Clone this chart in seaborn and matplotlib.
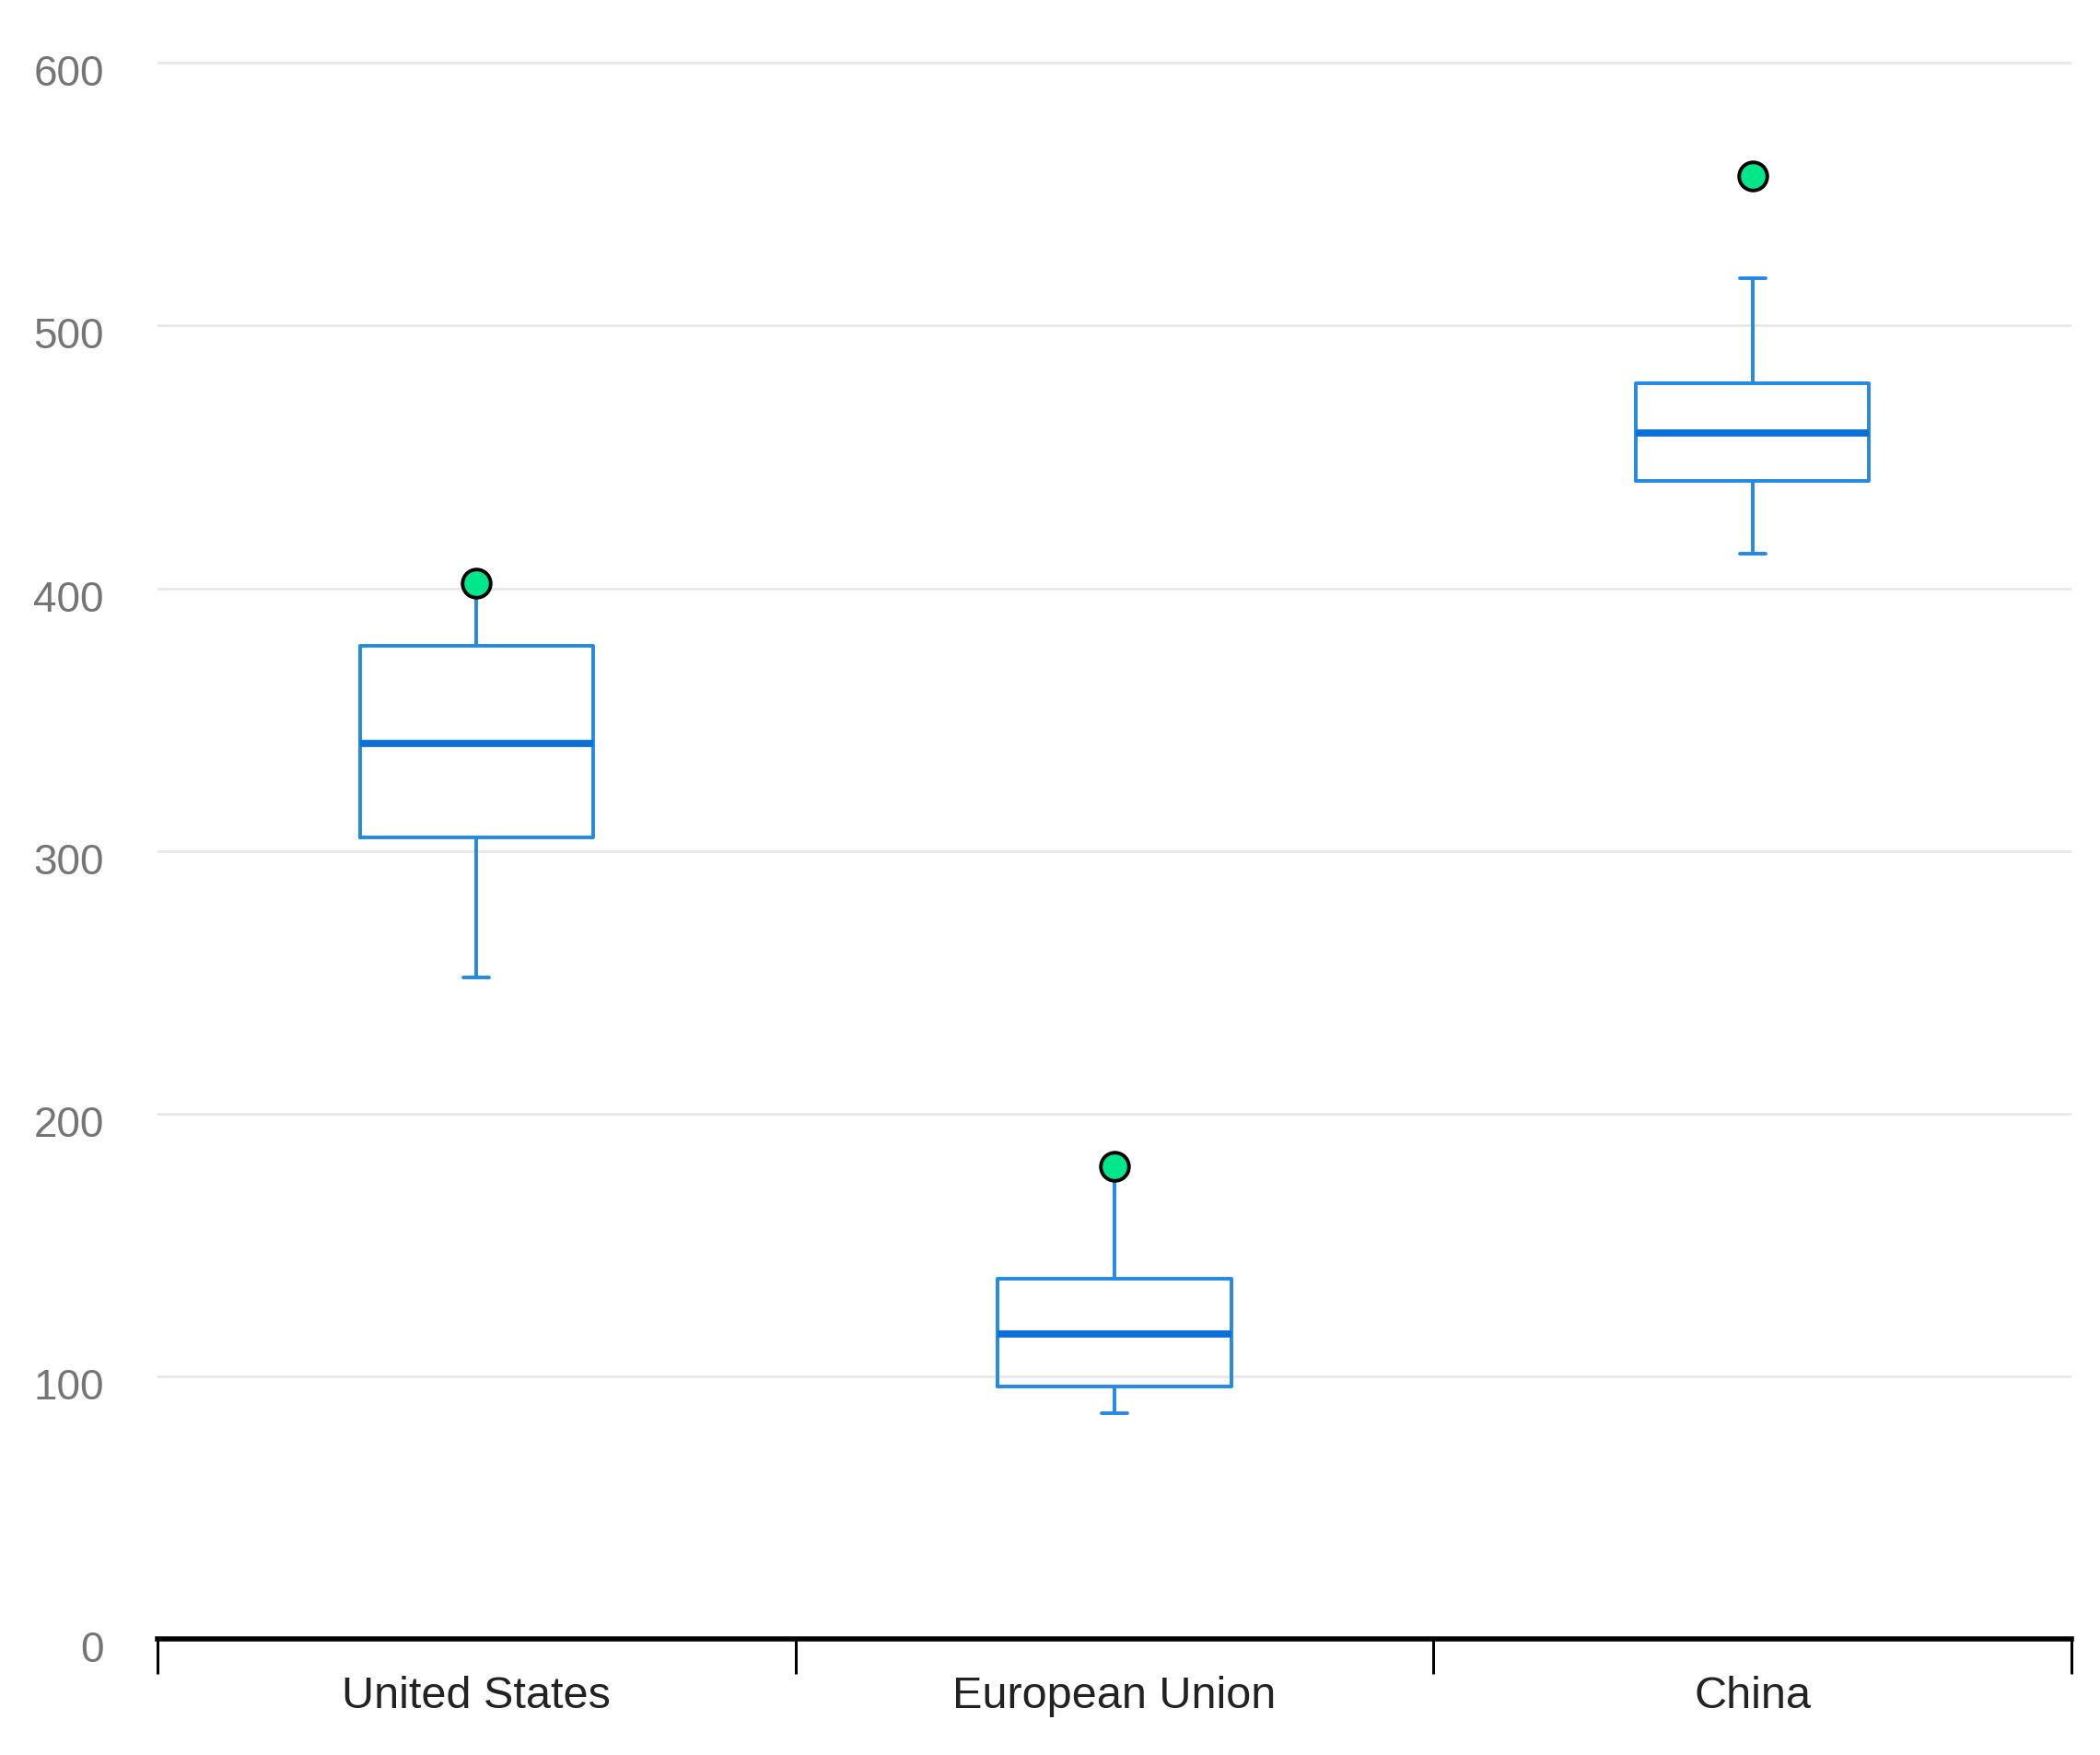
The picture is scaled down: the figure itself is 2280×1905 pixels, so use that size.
import numpy as np
import pandas as pd
import seaborn as sns
import matplotlib

matplotlib.use("Agg")
import matplotlib.pyplot as plt
import matplotlib.transforms as mtransforms

# five number summary, plus the green dots
categories = ["United States", "European Union", "China"]
low = [252, 86, 413]
q1 = [305, 96, 441]
median = [341, 116, 459]
q3 = [378, 137, 478]
high = [402, 180, 518]
dot = [402, 180, 557]
y_ticks = [0, 100, 200, 300, 400, 500, 600]

BOX_COLOR = "#2389e4"
MEDIAN_COLOR = "#0a6fd6"
DOT_COLOR = "#00e68a"


def build_frame():
    rows = []
    for i, cat in enumerate(categories):
        for v in (low[i], q1[i], median[i], q3[i], high[i]):
            rows.append({"region": cat, "value": v})
    return pd.DataFrame(rows)


def main():
    sns.set_theme(style="white")
    plt.rcParams["font.family"] = ["Liberation Sans", "DejaVu Sans"]

    df = build_frame()

    fig = plt.figure(figsize=(11.4, 9.53), dpi=200)
    ax = fig.add_axes([0.075, 0.0661, 0.9114, 0.905])

    sns.boxplot(
        data=df,
        x="region",
        y="value",
        order=categories,
        whis=(0, 100),
        showfliers=False,
        fill=False,
        color=BOX_COLOR,
        width=0.366,
        linewidth=1.4,
        medianprops={"color": MEDIAN_COLOR, "linewidth": 2.8},
        capwidths=0.04,
        ax=ax,
    )

    sns.stripplot(
        x=categories,
        y=dot,
        order=categories,
        jitter=False,
        color=DOT_COLOR,
        size=11,
        edgecolor="black",
        linewidth=1.4,
        zorder=5,
        ax=ax,
    )

    ax.set_ylim(0, 605)
    ax.set_yticks(y_ticks)
    ax.set_yticklabels([str(t) for t in y_ticks])
    ax.yaxis.grid(True, color="#e8e8e8", linewidth=1.0)
    ax.set_axisbelow(True)
    ax.tick_params(axis="y", length=0, pad=21, labelsize=16.5, labelcolor="#757575")
    # labels sit a touch below their grid lines in the original
    shift = mtransforms.ScaledTranslation(0, -2.5 / 72, fig.dpi_scale_trans)
    for lab in ax.get_yticklabels():
        lab.set_transform(lab.get_transform() + shift)

    # ticks at band edges, labels at band centers
    ax.set_xlim(-0.5, 2.5)
    ax.set_xticks([-0.5, 0.5, 1.5, 2.5])
    ax.set_xticklabels([""] * 4)
    ax.set_xticks([0, 1, 2], minor=True)
    ax.set_xticklabels(categories, minor=True)
    ax.tick_params(axis="x", which="both", bottom=True)
    ax.tick_params(axis="x", which="major", direction="out", length=13.5, width=1.1, color="black")
    ax.tick_params(axis="x", which="minor", length=0, pad=14, labelsize=17.5, labelcolor="#222222")

    for side in ["top", "left", "right"]:
        ax.spines[side].set_visible(False)
    ax.spines["bottom"].set_color("black")
    ax.spines["bottom"].set_linewidth(2.0)

    ax.set_xlabel("")
    ax.set_ylabel("")

    fig.savefig("out.png", dpi=200, facecolor="white")


if __name__ == "__main__":
    main()
